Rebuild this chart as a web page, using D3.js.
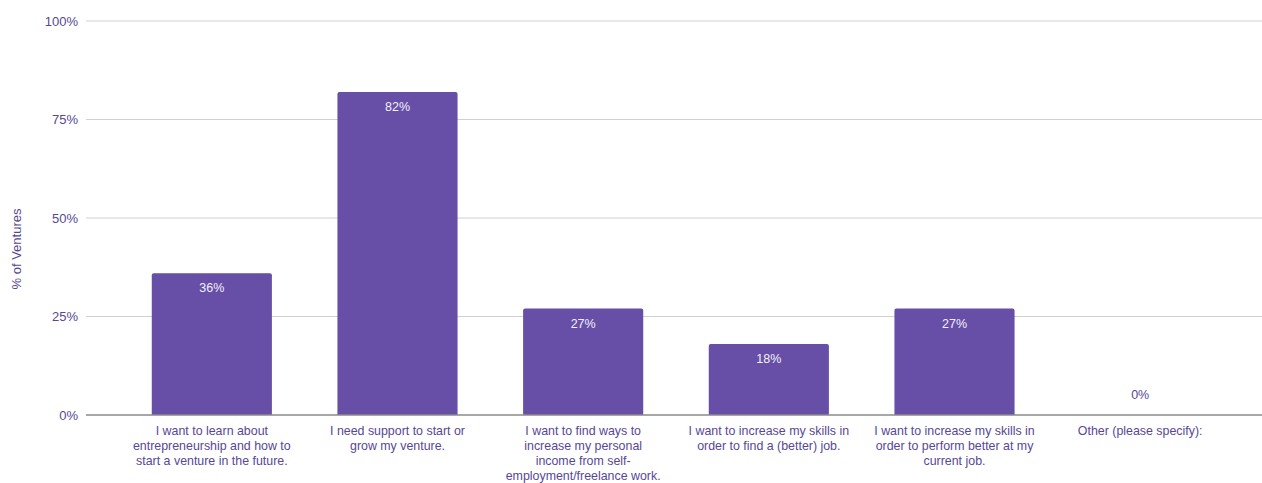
<!DOCTYPE html>
<html>
<head>
<meta charset="utf-8">
<script src="https://cdn.jsdelivr.net/npm/d3@7"></script>
<style>
  html, body { margin: 0; padding: 0; background: #fff; }
  svg { display: block; font-family: "Liberation Sans", Arial, sans-serif; }
</style>
</head>
<body>
<svg id="chart" width="1262" height="483"></svg>
<script>
// Reasons for joining, share of ventures (%)
const categories = [
  "I want to learn about\nentrepreneurship and how to\nstart a venture in the future.",
  "I need support to start or\ngrow my venture.",
  "I want to find ways to\nincrease my personal\nincome from self-\nemployment/freelance work.",
  "I want to increase my skills in\norder to find a (better) job.",
  "I want to increase my skills in\norder to perform better at my\ncurrent job.",
  "Other (please specify):"
];
const values = [36, 82, 27, 18, 27, 0];
const yTicks = [0, 25, 50, 75, 100];
const yTitle = "% of Ventures";

const barColor = "#674ea7";
const textColor = "#574795";

const svg = d3.select("#chart");
const plot = { left: 86, right: 1262, top: 21, bottom: 415 };

const x = d3.scaleBand()
  .domain(categories)
  .range([119, 1233])
  .paddingInner(0.353)
  .paddingOuter(0.1765);

const y = d3.scaleLinear().domain([0, 100]).range([plot.bottom, plot.top]);

// gridlines
svg.append("g")
  .selectAll("line")
  .data(yTicks.filter(d => d > 0))
  .join("line")
  .attr("x1", plot.left).attr("x2", plot.right)
  .attr("y1", d => y(d)).attr("y2", d => y(d))
  .attr("stroke", "#d0d0d0").attr("stroke-width", 1);

// y tick labels
svg.append("g")
  .selectAll("text")
  .data(yTicks)
  .join("text")
  .attr("x", 78)
  .attr("y", d => y(d))
  .attr("dy", "0.35em")
  .attr("text-anchor", "end")
  .attr("font-size", 13)
  .attr("fill", textColor)
  .text(d => d + "%");

// y title
svg.append("text")
  .attr("transform", "translate(21,249) rotate(-90)")
  .attr("text-anchor", "middle")
  .attr("font-size", 13)
  .attr("fill", textColor)
  .text(yTitle);

// bars
svg.append("g")
  .selectAll("path")
  .data(values.map((v, i) => ({ v, c: categories[i] })).filter(d => d.v > 0))
  .join("path")
  .attr("fill", barColor)
  .attr("d", d => {
    const x0 = x(d.c), w = x.bandwidth(), y0 = y(d.v), y1 = y(0), r = 2;
    return `M${x0},${y1}V${y0 + r}Q${x0},${y0} ${x0 + r},${y0}H${x0 + w - r}Q${x0 + w},${y0} ${x0 + w},${y0 + r}V${y1}Z`;
  });

// baseline
svg.append("line")
  .attr("x1", plot.left).attr("x2", plot.right)
  .attr("y1", y(0)).attr("y2", y(0))
  .attr("stroke", "#8a8a8a").attr("stroke-width", 1.5);

// value labels
svg.append("g")
  .selectAll("text")
  .data(values.map((v, i) => ({ v, c: categories[i] })))
  .join("text")
  .attr("x", d => x(d.c) + x.bandwidth() / 2)
  .attr("y", d => d.v > 0 ? y(d.v) + 19 : y(0) - 16)
  .attr("text-anchor", "middle")
  .attr("font-size", 12.5)
  .attr("fill", d => d.v > 0 ? "#f4f1fa" : textColor)
  .text(d => d.v + "%");

// category labels
const cat = svg.append("g")
  .selectAll("text")
  .data(categories)
  .join("text")
  .attr("text-anchor", "middle")
  .attr("font-size", 12.4)
  .attr("fill", textColor);
cat.each(function(d) {
  const cx = x(d) + x.bandwidth() / 2;
  d3.select(this).selectAll("tspan")
    .data(d.split("\n"))
    .join("tspan")
    .attr("x", cx)
    .attr("y", (l, i) => 435 + i * 15)
    .text(l => l);
});
</script>
</body>
</html>
